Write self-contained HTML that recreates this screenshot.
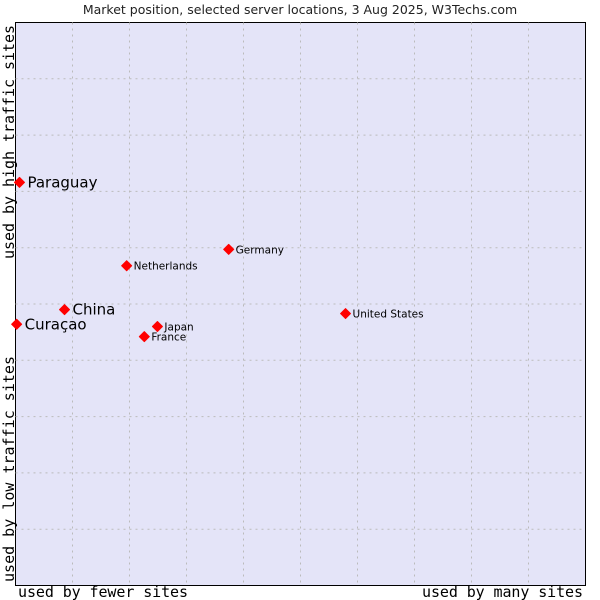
<!DOCTYPE html>
<html><head><meta charset="utf-8">
<style>
body{margin:0;background:#fff;width:600px;height:600px;overflow:hidden}
svg{display:block}
</style></head><body>
<svg width="600" height="600">
<text x="300" y="14" text-anchor="middle" font-family="DejaVu Sans, sans-serif" font-size="12.5" fill="#222">Market position, selected server locations, 3 Aug 2025, W3Techs.com</text>
<rect x="15.5" y="22.5" width="570" height="563" fill="#e4e4f8" stroke="#000"/>
<g id="grid"></g>
<g id="points"></g>
<text x="18" y="597" textLength="170" font-family="DejaVu Sans Mono, monospace" font-size="15" fill="#000">used by fewer sites</text>
<text x="422" y="597" textLength="161" font-family="DejaVu Sans Mono, monospace" font-size="15" fill="#000">used by many sites</text>
<text transform="translate(14,259) rotate(-90)" textLength="234" font-family="DejaVu Sans Mono, monospace" font-size="15" fill="#000">used by high traffic sites</text>
<text transform="translate(14,582) rotate(-90)" textLength="226" font-family="DejaVu Sans Mono, monospace" font-size="15" fill="#000">used by low traffic sites</text>
</svg>
<script>
const names=["Paraguay","China","Curaçao","Netherlands","Germany","Japan","France","United States"];
const xVals=[0.7,8.6,0.2,19.5,37.4,24.9,22.6,57.9];
const yVals=[71.6,49.0,46.4,56.8,59.7,46.0,44.2,48.3];
const bigLabel=[true,true,true,false,false,false,false,false];
const L=15.5,T=22.5,W=570,H=563;
const sx=v=>L+v/100*W, sy=v=>T+H-v/100*H;
const NS="http://www.w3.org/2000/svg";
const g=document.getElementById('grid');
for(let i=1;i<10;i++){
  const v=document.createElementNS(NS,'line');
  v.setAttribute('x1',sx(i*10));v.setAttribute('x2',sx(i*10));v.setAttribute('y1',T);v.setAttribute('y2',T+H);
  v.setAttribute('stroke','#bbb');v.setAttribute('stroke-dasharray','2,4');
  
  
  g.appendChild(v);
  const h=document.createElementNS(NS,'line');
  h.setAttribute('y1',sy(i*10));h.setAttribute('y2',sy(i*10));h.setAttribute('x1',L);h.setAttribute('x2',L+W);
  h.setAttribute('stroke','#bbb');h.setAttribute('stroke-dasharray','2,4');
  
  
  g.appendChild(h);
}
const p=document.getElementById('points');
names.forEach((n,i)=>{
  const x=sx(xVals[i]),y=sy(yVals[i]);
  const d=document.createElementNS(NS,'path');
  d.setAttribute('d',`M${x-5},${y} L${x},${y-5} L${x+5},${y} L${x},${y+5} Z`);
  d.setAttribute('fill','#f00');
  d.setAttribute('stroke','#f00');
  d.setAttribute('stroke-width','1');
  d.setAttribute('stroke-linejoin','round');
  
  
  p.appendChild(d);
  const t=document.createElementNS(NS,'text');
  t.setAttribute('x',x+(bigLabel[i]?8:7));
  t.setAttribute('y',y+(bigLabel[i]?5:4));
  t.setAttribute('font-family','DejaVu Sans, sans-serif');
  t.setAttribute('font-size',bigLabel[i]?'15':'10.5');
  t.setAttribute('fill','#000');
  t.textContent=n;
  
  
  p.appendChild(t);
});
</script>
</body></html>
